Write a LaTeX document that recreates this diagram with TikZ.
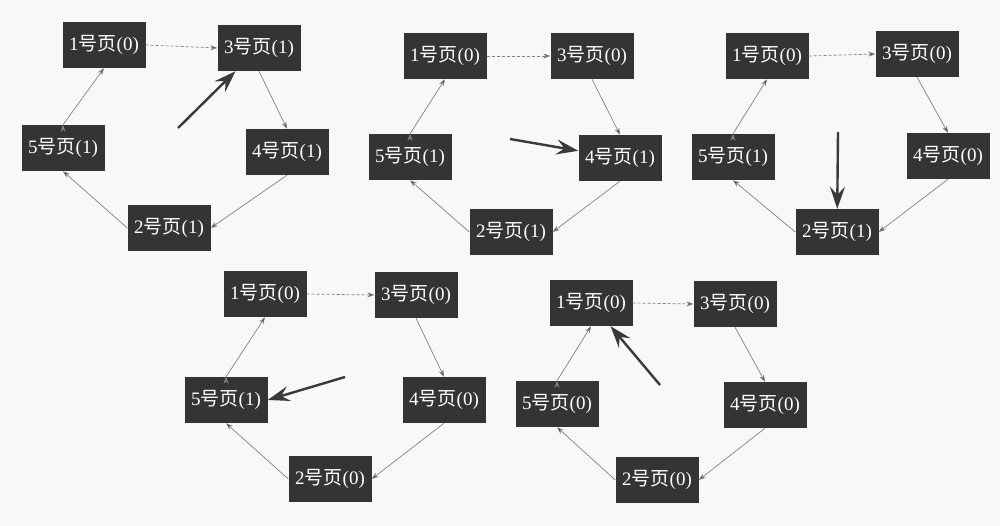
\documentclass[tikz,border=0pt]{standalone}
\usepackage{fontspec}
\setmainfont{Liberation Serif}
\newfontfamily\cjk{Noto Sans CJK SC}
\usetikzlibrary{positioning, arrows.meta}
\definecolor{paper}{RGB}{248,248,248}
\definecolor{pagebox}{RGB}{52,52,52}
\definecolor{ringline}{RGB}{130,130,130}
\definecolor{hand}{RGB}{58,58,58}
\newcommand{\pg}[2]{#1{\cjk 号页}(#2)}
\tikzset{
x=1pt, y=-1pt, % one unit is one pixel of the page
page/.style={draw=none, fill=pagebox, text=white, minimum width=83pt, minimum height=46pt, inner sep=0pt, font=\fontsize{19}{22}\selectfont}, % sets the properties for each page node
ring/.style={draw=ringline, line width=0.7pt, -{Stealth[length=7pt, width=5pt]}}, % the edges of the clock
hand/.style={draw=hand, line width=2.4pt, -{Stealth[length=22pt, width=15pt, inset=8pt]}}, % the big pointer
}
\begin{document}
\begin{tikzpicture}
    \fill[paper] (0,0) rectangle (1000,526);
    \useasboundingbox (0,0) rectangle (1000,526);

    % first clock
    \node[page] (A1) at (104,45) {\pg{1}{0}};
    \node[page] (A3) at (259,48) {\pg{3}{1}};
    \node[page] (A5) at (63,148) {\pg{5}{1}};
    \node[page] (A4) at (287,152) {\pg{4}{1}};
    \node[page] (A2) at (169,228) {\pg{2}{1}};
    \coordinate (pA) at (178,128);

    % second clock
    \node[page] (B1) at (445,56) {\pg{1}{0}};
    \node[page] (B3) at (592,56) {\pg{3}{0}};
    \node[page] (B5) at (410,157) {\pg{5}{1}};
    \node[page] (B4) at (620,158) {\pg{4}{1}};
    \node[page] (B2) at (511,232) {\pg{2}{1}};
    \coordinate (pB) at (510,139);

    % third clock
    \node[page] (C1) at (767,56) {\pg{1}{0}};
    \node[page] (C3) at (917,54) {\pg{3}{0}};
    \node[page] (C5) at (733,157) {\pg{5}{1}};
    \node[page] (C4) at (948,156) {\pg{4}{0}};
    \node[page] (C2) at (837,232) {\pg{2}{1}};
    \coordinate (pC) at (838,132);

    % fourth clock
    \node[page] (D1) at (265,294) {\pg{1}{0}};
    \node[page] (D3) at (416,295) {\pg{3}{0}};
    \node[page] (D5) at (226,400) {\pg{5}{1}};
    \node[page] (D4) at (444,400) {\pg{4}{0}};
    \node[page] (D2) at (330,479) {\pg{2}{0}};
    \coordinate (pD) at (345,377);

    % fifth clock
    \node[page] (E1) at (591,303) {\pg{1}{0}};
    \node[page] (E3) at (735,304) {\pg{3}{0}};
    \node[page] (E5) at (557,404) {\pg{5}{0}};
    \node[page] (E4) at (765,405) {\pg{4}{0}};
    \node[page] (E2) at (657,480) {\pg{2}{0}};
    \coordinate (pE) at (660,385);

  \foreach \c in {A,B,C,D,E}{
    \draw[ring] (\c1.east) edge[densely dashed] (\c3.west)
        (\c3.south) edge (\c4.north)
        (\c4.south) edge (\c2.east)
        (\c2.west) edge (\c5.south)
        (\c5.north) edge (\c1.south);
  }

  \draw[hand] (pA) -- (A3);
  \draw[hand] (pB) -- (B4);
  \draw[hand] (pC) -- (C2);
  \draw[hand] (pD) -- (D5.east);
  \draw[hand] (pE) -- (E1);
\end{tikzpicture}
\end{document}
